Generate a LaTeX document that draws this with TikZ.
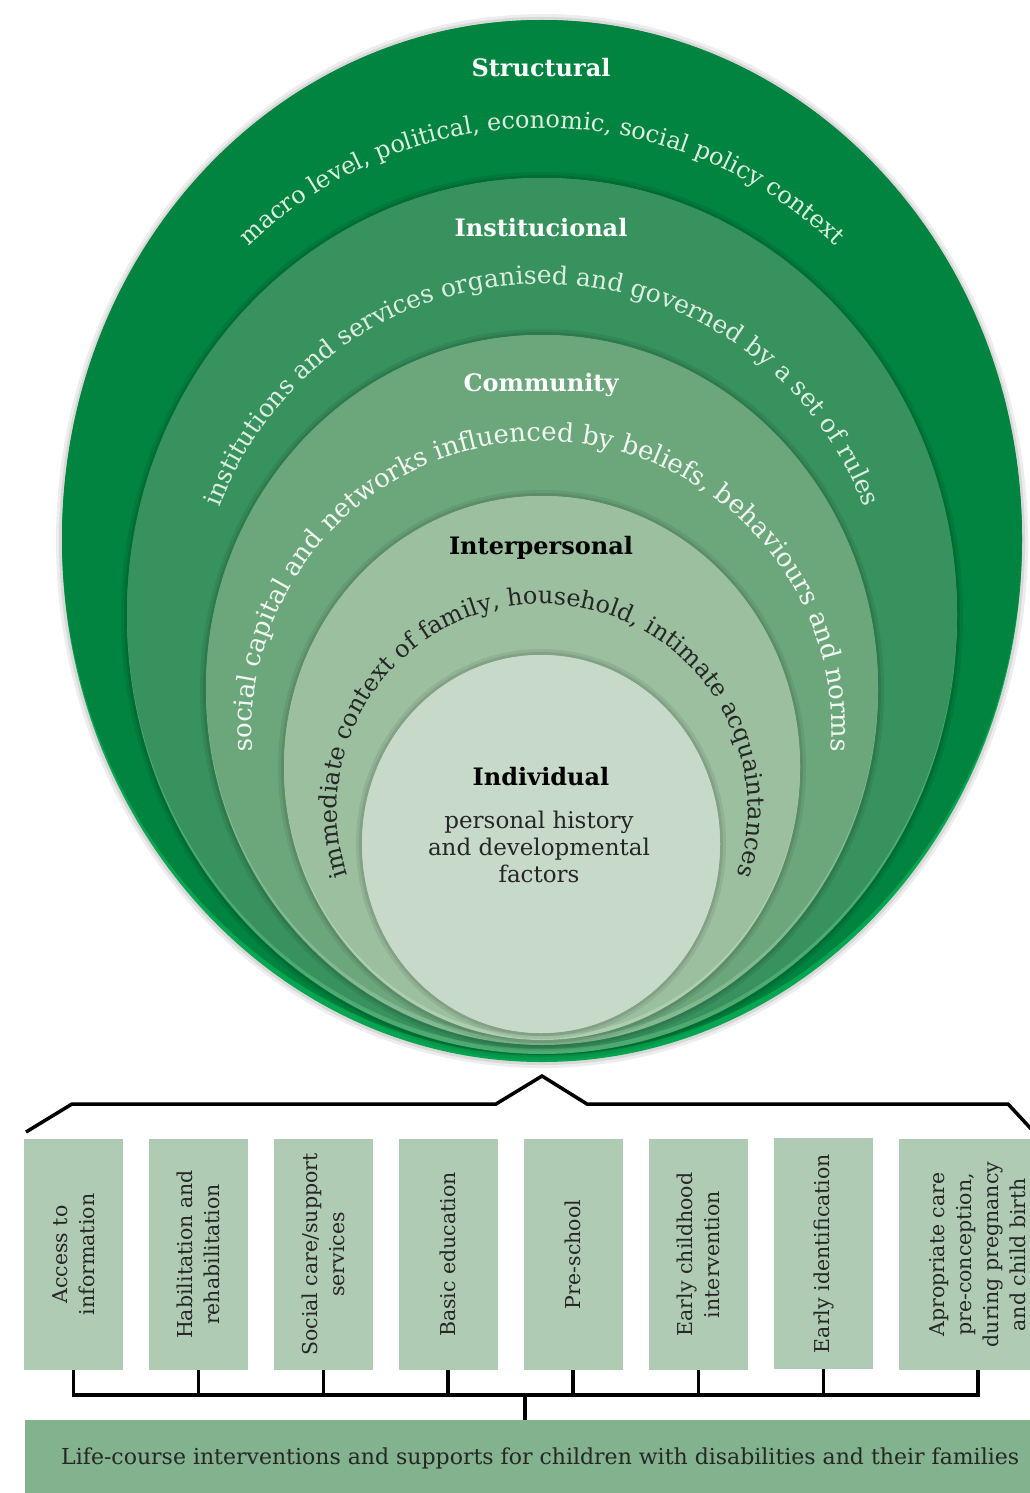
\documentclass[tikz,border=0pt]{standalone}
\usepackage{fontspec}
\setmainfont{DejaVu Serif}
\usetikzlibrary{decorations.text,calc}
\definecolor{cS}{HTML}{00843F}
\definecolor{cSrim}{HTML}{06A551}
\definecolor{cI}{HTML}{37925E}
\definecolor{cIrim}{HTML}{4FAA72}
\definecolor{cC}{HTML}{6CA77C}
\definecolor{cCrim}{HTML}{82B991}
\definecolor{cP}{HTML}{9BBF9F}
\definecolor{cPrim}{HTML}{AECDB1}
\definecolor{cV}{HTML}{C7D9C9}
\definecolor{cBox}{HTML}{B0CBB4}
\definecolor{cBar}{HTML}{83B28E}
\definecolor{txtLight}{HTML}{DDEDE2}
\definecolor{txtWhite}{HTML}{F0F6F1}
\definecolor{txtDark}{HTML}{262626}
\newcommand\ringfill[7]{%
  \fill[black,opacity=0.07] (#1,-#2) ellipse [x radius=#3+6, y radius=#4+6];
  \fill[black,opacity=0.09] (#1,-#2) ellipse [x radius=#3+3, y radius=#4+3];
  \fill[#6] (#1,-#2) ellipse [x radius=#3, y radius=#4];
  \fill[#5] (#1,{-#2+#7/2}) ellipse [x radius=#3, y radius={#4-#7/2}];
}
\newcommand\fmtS{\color{txtLight}\fontsize{24}{28}\selectfont}
\newcommand\fmtI{\color{txtLight}\fontsize{25}{28}\selectfont}
\newcommand\fmtC{\color{txtWhite}\fontsize{26}{28}\selectfont}
\newcommand\fmtP{\color{txtDark}\fontsize{24}{28}\selectfont}
\begin{document}
\begin{tikzpicture}[x=1pt,y=1pt,
  lab/.style={font=\bfseries\fontsize{24}{28}\selectfont, inner sep=0},
  ibox/.style={rotate=90, fill=cBox, minimum width=231, minimum height=99, inner sep=0,
    align=center, font=\fontsize{20.5}{27}\selectfont, text=txtDark},
  conn/.style={line width=3.5pt, black},
  brk/.style={line width=3.5pt, black, line join=miter}]
\useasboundingbox (0,0) rectangle (1030,-1493);
\clip (0,0) rectangle (1030,-1493);

% nested ellipses
\ringfill{542}{541}{480}{521}{cS}{cSrim}{7}
\ringfill{542}{616}{415}{438}{cI}{cIrim}{5}
\ringfill{542}{690}{336}{355}{cC}{cCrim}{5}
\ringfill{542}{768}{258}{272}{cP}{cPrim}{4}
\ringfill{541}{844}{179}{189}{cV}{cV}{0}

% labels
\node[lab, text=white] (lS) at (541,-68) {Structural};
\node[lab, text=white] (lI) at (541,-228) {Institucional};
\node[lab, text=white] (lC) at (541,-385) {Community};
\node[lab, text=black] (lP) at (541,-548) {Interpersonal};
\node[lab, text=black] (lV) at (541,-777) {Individual};
\node[align=center, font=\fontsize{23}{27}\selectfont, text=txtDark] (dV) at (539,-847)
  {personal history\\and developmental\\factors};

% curved descriptions
\path[decorate, decoration={text along path, text align=center,
  text={|\fmtS|macro level, political, economic, social policy context}}]
  ($(542,-551)+(150:423)$) arc[start angle=150, end angle=30, radius=423];
\path[decorate, decoration={text along path, text align=center,
  text={|\fmtI|institutions and services organised and governed by a set of rules}}]
  ($(542,-628)+(175:344)$) arc[start angle=175, end angle=5, radius=344];
\path[decorate, decoration={text along path, text align=center,
  text={|\fmtC|social capital and networks influenced by beliefs, behaviours and norms}}]
  ($(542,-731)+(195:290)$) arc[start angle=195, end angle=-15, radius=290];
\path[decorate, decoration={text along path, text align=center,
  text={|\fmtP|immediate context of family, household, intimate acquaintances}}]
  ($(542.5,-809.5)+(210:205.5)$) arc[start angle=210, end angle=-30, radius=205.5];

% bracket
\coordinate (bl) at (26,-1132);
\coordinate (k1) at (72,-1104);
\coordinate (k2) at (496,-1104);
\coordinate (peak) at (542,-1076);
\coordinate (k3) at (587,-1104);
\coordinate (k4) at (1008,-1104);
\coordinate (br) at (1034,-1132);
\draw[brk] (bl) -- (k1) -- (k2) -- (peak) -- (k3) -- (k4) -- (br);

% intervention boxes
\node[ibox] (b1) at (73.5,-1254.5) {Access to\\information};
\node[ibox] (b2) at (198.5,-1254.5) {Habilitation and\\rehabilitation};
\node[ibox] (b3) at (323.5,-1254.5) {Social care/support\\services};
\node[ibox] (b4) at (448,-1254.5) {Basic education};
\node[ibox] (b5) at (573,-1254.5) {Pre-school};
\node[ibox] (b6) at (698.5,-1254.5) {Early childhood\\intervention};
\node[ibox] (b7) at (823.5,-1253.5) {Early identification};
\node[ibox, minimum height=158] (b8) at (978,-1254.5) {Apropriate care\\pre-conception,\\during pregnancy\\and child birth};

% bottom bar
\node[fill=cBar, minimum width=1030, minimum height=76, inner sep=0, anchor=north west,
  font=\fontsize{22}{26}\selectfont, text=txtDark] (bar) at (25,-1420)
  {Life-course interventions and supports for children with disabilities and their families};

% connectors
\coordinate (tl) at (0,-1395);
\coordinate (stem) at (525,-1395);
\foreach \b in {b1,b2,b3,b4,b5,b6,b7,b8}
  \draw[conn] (\b.west) -- (\b.west |- tl);
\draw[conn, line cap=rect] (b1.west |- tl) -- (b8.west |- tl);
\draw[conn] (stem) -- (stem |- bar.north);
\end{tikzpicture}
\end{document}
